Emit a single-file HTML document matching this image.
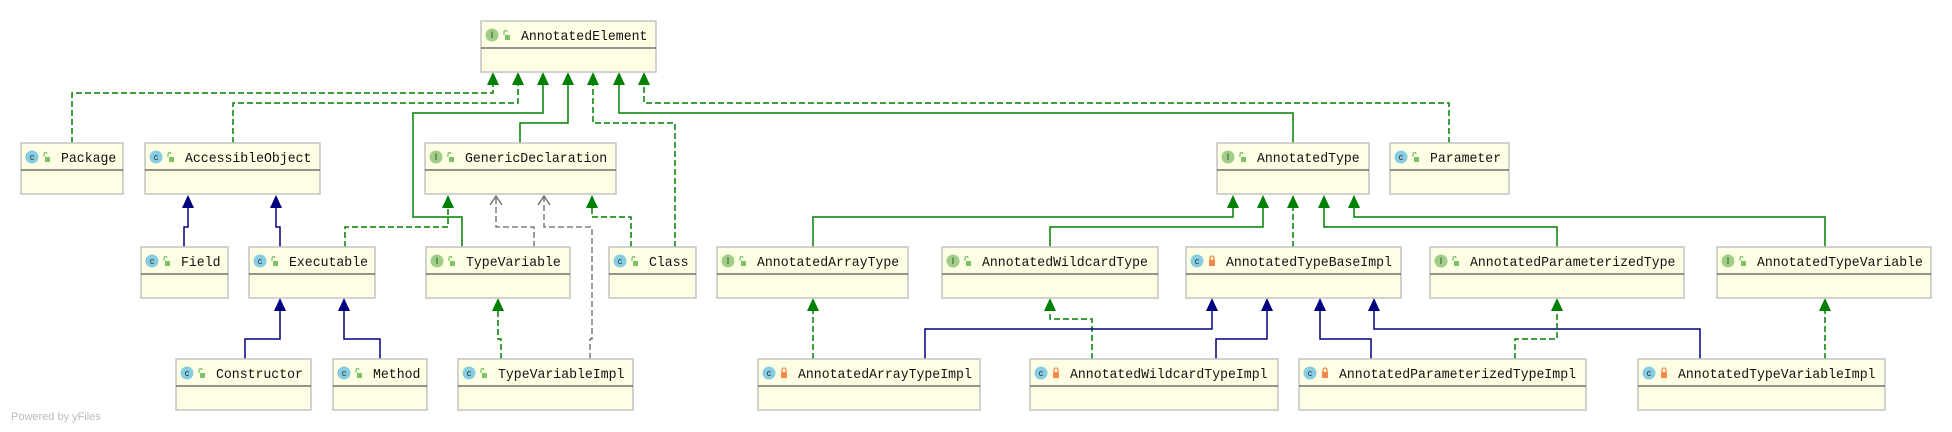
<!DOCTYPE html>
<html><head><meta charset="utf-8"><style>
html,body{margin:0;padding:0;background:#fff;}
svg{display:block;}
.bx{fill:#fefee4;stroke:#c4c4c4;stroke-width:1.5;}
.sp{stroke:#555;stroke-width:1.2;}
.t{font-family:"Liberation Mono",monospace;font-size:14px;fill:#111;}
.g{stroke:#008000;stroke-width:1.5;fill:none;}
.gd{stroke:#008000;stroke-width:1.5;fill:none;stroke-dasharray:6,3;}
.b{stroke:#000080;stroke-width:1.5;fill:none;}
.k{stroke:#666;stroke-width:1.3;fill:none;stroke-dasharray:6,3;}
.ic{font-family:"Liberation Sans",sans-serif;font-size:9px;fill:#333;text-anchor:middle;}
</style></head><body>
<svg width="1952" height="432" viewBox="0 0 1952 432" xmlns="http://www.w3.org/2000/svg">
<defs>
<path id="ag" d="M0 0 L-6 13 L6 13 Z" fill="#008000"/>
<path id="ab" d="M0 0 L-6 13 L6 13 Z" fill="#000080"/>
</defs>
<path class="gd" d="M72 143 V93 H493 V85"/><use href="#ag" x="493" y="72"/>
<path class="gd" d="M233 143 V103 H518 V85"/><use href="#ag" x="518" y="72"/>
<path class="g" d="M462 247 V217 H413 V113 H543 V85"/><use href="#ag" x="543" y="72"/>
<path class="g" d="M520 143 V123 H568 V85"/><use href="#ag" x="568" y="72"/>
<path class="gd" d="M675 247 V123 H593 V85"/><use href="#ag" x="593" y="72"/>
<path class="g" d="M1293 143 V113 H619 V85"/><use href="#ag" x="619" y="72"/>
<path class="gd" d="M1449 143 V103 H644 V85"/><use href="#ag" x="644" y="72"/>

<path class="gd" d="M345 247 V227 H448 V208"/><use href="#ag" x="448" y="195"/>
<path class="k" d="M534 247 V227 H496 V196"/><path d="M490 205 L496 196 L502 205" stroke="#666" stroke-width="1.3" fill="none"/>
<path class="k" d="M590 359 V339 H592 V227 H544 V196"/><path d="M538 205 L544 196 L550 205" stroke="#666" stroke-width="1.3" fill="none"/>
<path class="gd" d="M631 247 V217 H592 V208"/><use href="#ag" x="592" y="195"/>
<path class="b" d="M184 247 V227 H188 V208"/><use href="#ab" x="188" y="195"/>
<path class="b" d="M280 247 V227 H276 V208"/><use href="#ab" x="276" y="195"/>
<path class="b" d="M245 359 V339 H280 V311"/><use href="#ab" x="280" y="298"/>
<path class="b" d="M380 359 V339 H344 V311"/><use href="#ab" x="344" y="298"/>
<path class="gd" d="M501 359 V339 H498 V311"/><use href="#ag" x="498" y="298"/>

<path class="g" d="M813 247 V217 H1233 V208"/><use href="#ag" x="1233" y="195"/>
<path class="g" d="M1050 247 V227 H1263 V208"/><use href="#ag" x="1263" y="195"/>
<path class="gd" d="M1293 247 V208"/><use href="#ag" x="1293" y="195"/>
<path class="g" d="M1557 247 V227 H1324 V208"/><use href="#ag" x="1324" y="195"/>
<path class="g" d="M1825 247 V217 H1354 V208"/><use href="#ag" x="1354" y="195"/>

<path class="gd" d="M813 359 V311"/><use href="#ag" x="813" y="298"/>
<path class="gd" d="M1092 359 V319 H1050 V311"/><use href="#ag" x="1050" y="298"/>
<path class="b" d="M925 359 V329 H1212 V311"/><use href="#ab" x="1212" y="298"/>
<path class="b" d="M1216 359 V339 H1267 V311"/><use href="#ab" x="1267" y="298"/>
<path class="b" d="M1371 359 V339 H1320 V311"/><use href="#ab" x="1320" y="298"/>
<path class="b" d="M1700 359 V329 H1374 V311"/><use href="#ab" x="1374" y="298"/>
<path class="gd" d="M1515 359 V339 H1557 V311"/><use href="#ag" x="1557" y="298"/>
<path class="gd" d="M1825 359 V311"/><use href="#ag" x="1825" y="298"/>

<g id="boxes"></g>
<text x="11" y="420" font-family="Liberation Sans,sans-serif" font-size="11" fill="#bbb">Powered by yFiles</text>
</svg>
<script>
var B=[
["AnnotatedElement",481,656,21,"I",0],
["Package",21,123,143,"C",0],
["AccessibleObject",145,320,143,"C",0],
["GenericDeclaration",425,616,143,"I",0],
["AnnotatedType",1217,1369,143,"I",0],
["Parameter",1390,1509,143,"C",0],
["Field",141,228,247,"C",0],
["Executable",249,375,247,"C",0],
["TypeVariable",426,570,247,"I",0],
["Class",609,696,247,"C",0],
["AnnotatedArrayType",717,908,247,"I",0],
["AnnotatedWildcardType",942,1158,247,"I",0],
["AnnotatedTypeBaseImpl",1186,1401,247,"C",1],
["AnnotatedParameterizedType",1430,1684,247,"I",0],
["AnnotatedTypeVariable",1717,1931,247,"I",0],
["Constructor",176,311,359,"C",0],
["Method",333,427,359,"C",0],
["TypeVariableImpl",458,633,359,"C",0],
["AnnotatedArrayTypeImpl",758,980,359,"C",1],
["AnnotatedWildcardTypeImpl",1030,1278,359,"C",1],
["AnnotatedParameterizedTypeImpl",1299,1586,359,"C",1],
["AnnotatedTypeVariableImpl",1638,1885,359,"C",1]];
var s="";
B.forEach(function(b){var n=b[0],x=b[1],x2=b[2],y=b[3],w=x2-x;
s+='<rect class="bx" x="'+x+'" y="'+y+'" width="'+w+'" height="51"/>';
s+='<line class="sp" x1="'+x+'" y1="'+(y+27)+'" x2="'+x2+'" y2="'+(y+27)+'"/>';
var cx=x+11,cy=y+14;
s+='<circle cx="'+cx+'" cy="'+cy+'" r="6.5" fill="'+(b[4]=="I"?"#9fcf86":"#86cde3")+'"/>';
s+='<text class="ic" x="'+cx+'" y="'+(cy+3)+'">'+(b[4]=="I"?"I":"c")+'</text>';
var lx=x+23;
if(b[5]){s+='<rect x="'+lx+'" y="'+(cy-1)+'" width="6" height="6" fill="#f08a4b"/><path d="M'+(lx+1)+' '+(cy-1)+' v-2 a2 2 0 0 1 4 0 v2" stroke="#f08a4b" fill="none" stroke-width="1.3"/>';}
else{s+='<rect x="'+(lx+1)+'" y="'+(cy)+'" width="5" height="5" fill="#7cc26a"/><path d="M'+(lx)+' '+(cy)+' v-3 a1.5 1.5 0 0 1 3 0" stroke="#7cc26a" fill="none" stroke-width="1.2"/>';}
s+='<text class="t" x="'+(x+40)+'" y="'+(y+19)+'" textLength="'+(n.length*7.9).toFixed(1)+'" lengthAdjust="spacingAndGlyphs">'+n+'</text>';
});
document.getElementById("boxes").innerHTML=s;
</script>
</body></html>
